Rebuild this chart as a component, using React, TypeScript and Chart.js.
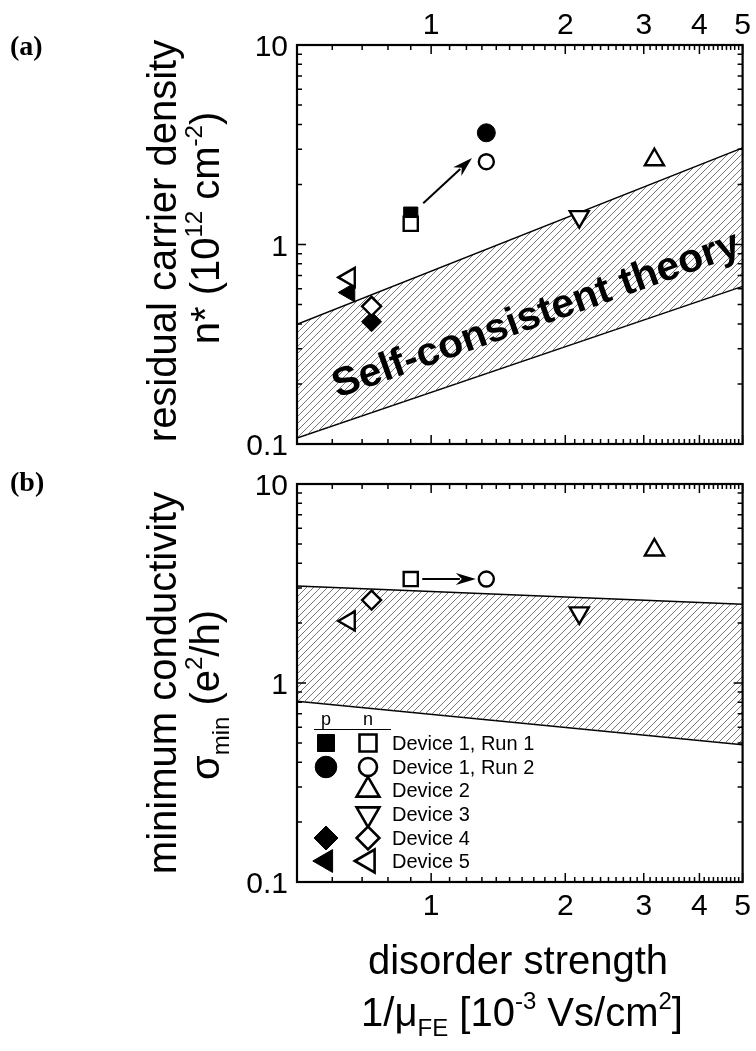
import { useEffect, useRef } from 'react';
import { Chart, registerables } from 'chart.js';
import { drawPoint } from 'chart.js/helpers';

Chart.register(...registerables);

const SANS = '"Liberation Sans", Arial, Helvetica, sans-serif';
const SERIF = '"Liberation Serif", "Times New Roman", serif';

// Devices and their disorder strength 1/muFE (10^-3 Vs/cm^2)
const DEVICES = ['Device 1, Run 1', 'Device 1, Run 2', 'Device 2', 'Device 3', 'Device 4', 'Device 5'];
const DISORDER = [0.9, 1.33, 3.17, 2.15, 0.735, 0.655];

// residual carrier density n* (10^12 cm^-2): hole side (p) and electron side (n)
const NSTAR_P = [1.42, 3.63, null, null, 0.41, 0.575];
const NSTAR_N = [1.27, 2.6, 2.66, 1.38, 0.49, 0.684];

// minimum conductivity sigma_min (e^2/h), electron side
const SIGMA_N = [3.33, 3.33, 4.66, 2.25, 2.61, 2.05];

// marker shape per device
const MARKER = ['rect', 'circle', 'triangle', 'triangle', 'rectRot', 'triangle'];
const MARKER_ROT = [0, 0, 0, 180, 0, -90];
const OPEN_R = [10, 7.5, 11, 11, 9.5, 11];
const FILLED_R = [10, 9, 11, 11, 10, 11];

// self-consistent theory bands, edges evaluated at the ends of the x range
const BAND_X = [0.5, 5];
const NSTAR_BAND_HI = [0.398, 3.05];
const NSTAR_BAND_LO = [0.107, 0.617];
const SIGMA_BAND_HI = [3.07, 2.49];
const SIGMA_BAND_LO = [0.81, 0.49];

// Run 1 -> Run 2 arrows
const NSTAR_ARROW_X = [0.96, 1.235];
const NSTAR_ARROW_Y = [1.61, 2.71];
const SIGMA_ARROW_X = [0.955, 1.26];
const SIGMA_ARROW_Y = [3.33, 3.33];

// axes
const X_MIN = 0.5;
const X_MAX = 5;
const Y_MIN = 0.1;
const Y_MAX = 10;
const X_LABELS = [1, 2, 3, 4, 5];
const Y_LABELS = [0.1, 1, 10];
const X_MINOR: number[] = [];
for (let k = 6; k <= 49; k++) if (k % 10 !== 0) X_MINOR.push(k / 10);
const Y_MINOR: number[] = [];
for (const d of [0.1, 1]) for (let m = 2; m <= 9; m++) Y_MINOR.push(+(m * d).toFixed(2));

type Seg = [string, number, number];

function richText(ctx: CanvasRenderingContext2D, segs: Seg[], x: number, y: number, angle: number) {
  ctx.save();
  ctx.translate(x, y);
  ctx.rotate(angle);
  ctx.textAlign = 'left';
  ctx.textBaseline = 'alphabetic';
  ctx.fillStyle = '#000';
  let total = 0;
  const ws = segs.map(([t, s]) => {
    ctx.font = `${s}px ${SANS}`;
    const w = ctx.measureText(t).width;
    total += w;
    return w;
  });
  let cx = -total / 2;
  segs.forEach(([t, s, dy], i) => {
    ctx.font = `${s}px ${SANS}`;
    ctx.fillText(t, cx, dy);
    cx += ws[i];
  });
  ctx.restore();
}

function makeHatch(): CanvasPattern | string {
  const s = 7;
  const c = document.createElement('canvas');
  c.width = s;
  c.height = s;
  const g = c.getContext('2d');
  if (!g) return '#ccc';
  g.strokeStyle = '#555';
  g.lineWidth = 0.8;
  g.beginPath();
  g.moveTo(-1, s + 1);
  g.lineTo(s + 1, -1);
  g.moveTo(-1, 1);
  g.lineTo(1, -1);
  g.moveTo(s - 1, s + 1);
  g.lineTo(s + 1, s - 1);
  g.stroke();
  return g.createPattern(c, 'repeat') || '#ccc';
}

function drawArrow(ctx: CanvasRenderingContext2D, x1: number, y1: number, x2: number, y2: number) {
  const ang = Math.atan2(y2 - y1, x2 - x1);
  const head = 20;
  const half = 6;
  const bx = x2 - head * Math.cos(ang);
  const by = y2 - head * Math.sin(ang);
  ctx.save();
  ctx.strokeStyle = '#000';
  ctx.fillStyle = '#000';
  ctx.lineWidth = 2;
  ctx.beginPath();
  ctx.moveTo(x1, y1);
  ctx.lineTo(bx + 4 * Math.cos(ang), by + 4 * Math.sin(ang));
  ctx.stroke();
  ctx.beginPath();
  ctx.moveTo(x2, y2);
  ctx.lineTo(bx - half * Math.sin(ang), by + half * Math.cos(ang));
  ctx.lineTo(bx + 6 * Math.cos(ang), by + 6 * Math.sin(ang));
  ctx.lineTo(bx + half * Math.sin(ang), by - half * Math.cos(ang));
  ctx.closePath();
  ctx.fill();
  ctx.restore();
}

function drawFrame(chart: Chart, labelsOn: 'top' | 'bottom') {
  const { ctx, chartArea: a } = chart;
  const xs = chart.scales.x;
  const ys = chart.scales.y;
  ctx.save();
  ctx.strokeStyle = '#000';
  ctx.lineWidth = 1.5;
  ctx.beginPath();
  const xTick = (v: number, len: number) => {
    const px = xs.getPixelForValue(v);
    ctx.moveTo(px, a.top);
    ctx.lineTo(px, a.top + len);
    ctx.moveTo(px, a.bottom);
    ctx.lineTo(px, a.bottom - len);
  };
  const yTick = (v: number, len: number) => {
    const py = ys.getPixelForValue(v);
    ctx.moveTo(a.left, py);
    ctx.lineTo(a.left + len, py);
    ctx.moveTo(a.right, py);
    ctx.lineTo(a.right - len, py);
  };
  X_MINOR.forEach((v) => xTick(v, 5));
  X_LABELS.forEach((v) => xTick(v, 9));
  Y_MINOR.forEach((v) => yTick(v, 5));
  Y_LABELS.forEach((v) => yTick(v, 9));
  ctx.stroke();
  ctx.lineWidth = 2.2;
  ctx.strokeRect(a.left, a.top, a.right - a.left, a.bottom - a.top);

  ctx.fillStyle = '#000';
  ctx.font = `30px ${SANS}`;
  ctx.textBaseline = 'alphabetic';
  ctx.textAlign = 'center';
  X_LABELS.forEach((v) => {
    const px = xs.getPixelForValue(v);
    const py = labelsOn === 'top' ? a.top - 11 : a.bottom + 33;
    ctx.fillText(String(v), px, py);
  });
  ctx.textAlign = 'right';
  Y_LABELS.forEach((v) => {
    ctx.fillText(String(v), a.left - 9, ys.getPixelForValue(v) + 11);
  });
  ctx.restore();
}

function pointSet(label: string, i: number, x: number, y: number, filled: boolean) {
  return {
    label,
    data: [{ x, y }],
    showLine: false,
    pointStyle: MARKER[i],
    pointRotation: MARKER_ROT[i],
    pointRadius: filled ? FILLED_R[i] : OPEN_R[i],
    pointHoverRadius: filled ? FILLED_R[i] : OPEN_R[i],
    pointBorderWidth: filled ? 1 : 2.4,
    pointBorderColor: '#000',
    pointBackgroundColor: filled ? '#000' : '#fff',
  };
}

function bandSets(hi: number[], lo: number[], hatch: CanvasPattern | string) {
  return [
    {
      type: 'line' as const,
      label: 'theory upper',
      data: BAND_X.map((x, i) => ({ x, y: hi[i] })),
      borderColor: '#000',
      borderWidth: 1.5,
      pointRadius: 0,
      fill: '+1',
      backgroundColor: hatch,
    },
    {
      type: 'line' as const,
      label: 'theory lower',
      data: BAND_X.map((x, i) => ({ x, y: lo[i] })),
      borderColor: '#000',
      borderWidth: 1.5,
      pointRadius: 0,
      fill: false,
    },
  ];
}

function baseOptions(padding: { left: number; top: number; right: number; bottom: number }) {
  return {
    responsive: false,
    animation: false as const,
    devicePixelRatio: 1,
    events: [],
    layout: { padding },
    scales: {
      x: { type: 'logarithmic' as const, min: X_MIN, max: X_MAX, display: false },
      y: { type: 'logarithmic' as const, min: Y_MIN, max: Y_MAX, display: false },
    },
    plugins: { legend: { display: false }, tooltip: { enabled: false } },
  };
}

function densityChart(canvas: HTMLCanvasElement, hatch: CanvasPattern | string) {
  const open = DEVICES.map((d, i) => pointSet(d + ' n', i, DISORDER[i], NSTAR_N[i], false));
  const filled = DEVICES.flatMap((d, i) =>
    NSTAR_P[i] == null ? [] : [pointSet(d + ' p', i, DISORDER[i], NSTAR_P[i] as number, true)]
  );
  return new Chart(canvas, {
    type: 'scatter',
    data: { datasets: [...open, ...filled, ...bandSets(NSTAR_BAND_HI, NSTAR_BAND_LO, hatch)] as any },
    options: baseOptions({ left: 297, top: 45, right: 11, bottom: 16 }) as any,
    plugins: [
      {
        id: 'densityDecor',
        afterDatasetsDraw(chart: Chart) {
          const { ctx } = chart;
          const xs = chart.scales.x;
          const ys = chart.scales.y;
          drawArrow(
            ctx,
            xs.getPixelForValue(NSTAR_ARROW_X[0]),
            ys.getPixelForValue(NSTAR_ARROW_Y[0]),
            xs.getPixelForValue(NSTAR_ARROW_X[1]),
            ys.getPixelForValue(NSTAR_ARROW_Y[1])
          );
          // theory label along the band
          ctx.save();
          ctx.translate(540, 326);
          ctx.rotate((-19.6 * Math.PI) / 180);
          ctx.font = `bold 40px ${SANS}`;
          const w = ctx.measureText('Self-consistent theory').width;
          ctx.scale(430 / w, 1);
          ctx.fillStyle = '#000';
          ctx.textAlign = 'center';
          ctx.textBaseline = 'alphabetic';
          ctx.fillText('Self-consistent theory', 0, 0);
          ctx.restore();

          drawFrame(chart, 'top');

          richText(ctx, [['residual carrier density', 40, 0]], 176, 241, -Math.PI / 2);
          richText(
            ctx,
            [
              ['n* (10', 40, 0],
              ['12', 24, -17],
              [' cm', 40, 0],
              ['-2', 24, -17],
              [')', 40, 0],
            ],
            219,
            228,
            -Math.PI / 2
          );
          ctx.save();
          ctx.font = `bold 28px ${SERIF}`;
          ctx.fillStyle = '#000';
          ctx.textAlign = 'left';
          ctx.fillText('(a)', 10, 55);
          ctx.restore();
        },
      },
    ],
  });
}

function conductivityChart(canvas: HTMLCanvasElement, hatch: CanvasPattern | string) {
  const open = DEVICES.map((d, i) => pointSet(d + ' n', i, DISORDER[i], SIGMA_N[i], false));
  return new Chart(canvas, {
    type: 'scatter',
    data: { datasets: [...open, ...bandSets(SIGMA_BAND_HI, SIGMA_BAND_LO, hatch)] as any },
    options: baseOptions({ left: 297, top: 24, right: 11, bottom: 169 }) as any,
    plugins: [
      {
        id: 'conductivityDecor',
        afterDatasetsDraw(chart: Chart) {
          const { ctx } = chart;
          const xs = chart.scales.x;
          const ys = chart.scales.y;
          drawArrow(
            ctx,
            xs.getPixelForValue(SIGMA_ARROW_X[0]),
            ys.getPixelForValue(SIGMA_ARROW_Y[0]),
            xs.getPixelForValue(SIGMA_ARROW_X[1]),
            ys.getPixelForValue(SIGMA_ARROW_Y[1])
          );

          // legend: p column (filled) and n column (open)
          ctx.save();
          ctx.fillStyle = '#000';
          ctx.strokeStyle = '#000';
          ctx.font = `18px ${SANS}`;
          ctx.textAlign = 'center';
          ctx.fillText('p', 326, 265);
          ctx.fillText('n', 368, 265);
          ctx.lineWidth = 1.2;
          ctx.beginPath();
          ctx.moveTo(314, 269.5);
          ctx.lineTo(391, 269.5);
          ctx.stroke();
          const rowY = [283, 307, 330, 354, 378, 401];
          DEVICES.forEach((d, i) => {
            const y = rowY[i];
            if (NSTAR_P[i] != null) {
              ctx.fillStyle = '#000';
              ctx.lineWidth = 1;
              drawPoint(ctx, { pointStyle: MARKER[i], rotation: MARKER_ROT[i], radius: FILLED_R[i] * 1.2, borderWidth: 1 } as any, 326, y);
            }
            ctx.fillStyle = '#fff';
            ctx.lineWidth = 2.6;
            drawPoint(ctx, { pointStyle: MARKER[i], rotation: MARKER_ROT[i], radius: OPEN_R[i] * 1.2, borderWidth: 2.6 } as any, 368, y);
            ctx.fillStyle = '#000';
            ctx.font = `20px ${SANS}`;
            ctx.textAlign = 'left';
            ctx.fillText(d, 392, y + 7);
          });
          ctx.restore();

          drawFrame(chart, 'bottom');

          richText(ctx, [['minimum conductivity', 40, 0]], 176, 223, -Math.PI / 2);
          richText(
            ctx,
            [
              ['\u03c3', 40, 0],
              ['min', 24, 10],
              [' (e', 40, 0],
              ['2', 24, -17],
              ['/h)', 40, 0],
            ],
            219,
            235,
            -Math.PI / 2
          );
          richText(ctx, [['disorder strength', 40, 0]], 518, 514, 0);
          richText(
            ctx,
            [
              ['1/\u03bc', 40, 0],
              ['FE', 24, 10],
              [' [10', 40, 0],
              ['-3', 24, -17],
              [' Vs/cm', 40, 0],
              ['2', 24, -17],
              [']', 40, 0],
            ],
            522,
            566,
            0
          );
          ctx.save();
          ctx.font = `bold 28px ${SERIF}`;
          ctx.fillStyle = '#000';
          ctx.textAlign = 'left';
          ctx.fillText('(b)', 10, 31);
          ctx.restore();
        },
      },
    ],
  });
}

export default function App() {
  const topRef = useRef<HTMLCanvasElement>(null);
  const bottomRef = useRef<HTMLCanvasElement>(null);

  useEffect(() => {
    if (!topRef.current || !bottomRef.current) return;
    const hatch = makeHatch();
    const a = densityChart(topRef.current, hatch);
    const b = conductivityChart(bottomRef.current, hatch);
    return () => {
      a.destroy();
      b.destroy();
    };
  }, []);

  return (
    <div style={{ position: 'absolute', left: 0, top: 0, width: 756, height: 1051, background: '#fff' }}>
      <canvas ref={topRef} width={756} height={460} style={{ position: 'absolute', left: 0, top: 0 }} />
      <canvas ref={bottomRef} width={756} height={591} style={{ position: 'absolute', left: 0, top: 460 }} />
    </div>
  );
}
